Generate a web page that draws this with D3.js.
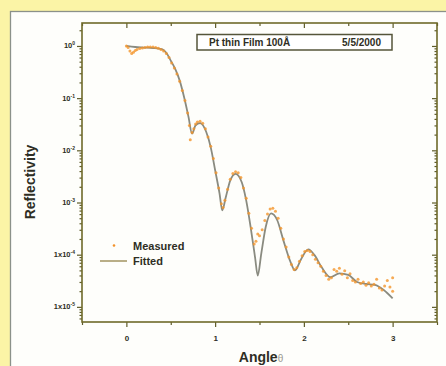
<!DOCTYPE html>
<html>
<head>
<meta charset="utf-8">
<script src="https://cdn.jsdelivr.net/npm/d3@7"></script>
<style>
body { margin: 0; background: #fbf4a6; }
svg { display: block; }
text { font-family: "Liberation Sans", Arial, sans-serif; font-weight: bold; fill: #2e2e24; }
</style>
</head>
<body>
<div id="chart"></div>
<script>
// fitted curve (angle in degrees, reflectivity)
const fitAngle = [0, 0.1, 0.2, 0.3, 0.4, 0.45, 0.5, 0.55, 0.6, 0.65, 0.7, 0.74, 0.78, 0.83, 0.9, 0.95, 1.0, 1.05, 1.08, 1.12, 1.17, 1.23, 1.3, 1.35, 1.4, 1.45, 1.48, 1.52, 1.57, 1.63, 1.7, 1.77, 1.85, 1.9, 1.97, 2.05, 2.12, 2.2, 2.3, 2.4, 2.5, 2.6, 2.7, 2.8, 2.9, 3.0];
const fitRefl = [1.0, 0.955, 0.933, 0.912, 0.871, 0.741, 0.525, 0.363, 0.219, 0.105, 0.0437, 0.0209, 0.0302, 0.0331, 0.0224, 0.0115, 0.00417, 0.00148, 7.08e-4, 1.26e-3, 2.63e-3, 3.55e-3, 2.45e-3, 1.10e-3, 3.39e-4, 8.9e-5, 3.98e-5, 1.05e-4, 3.39e-4, 6.17e-4, 4.57e-4, 1.86e-4, 7.2e-5, 5.0e-5, 8.3e-5, 1.26e-4, 9.8e-5, 5.75e-5, 3.7e-5, 4.4e-5, 4.1e-5, 3.0e-5, 2.75e-5, 2.63e-5, 2.1e-5, 1.45e-5];

// measured points
const measAngle = [0.00, 0.02, 0.04, 0.06, 0.08, 0.10, 0.12, 0.15, 0.18, 0.21, 0.24, 0.27, 0.30, 0.33, 0.36, 0.39, 0.42, 0.45, 0.48, 0.51, 0.54, 0.57, 0.60, 0.63, 0.66, 0.69, 0.71, 0.72, 0.74, 0.76, 0.78, 0.80, 0.83, 0.86, 0.89, 0.92, 0.95, 0.98, 1.01, 1.04, 1.07, 1.09, 1.11, 1.14, 1.17, 1.20, 1.23, 1.26, 1.29, 1.32, 1.35, 1.38, 1.41, 1.44, 1.46, 1.48, 1.50, 1.53, 1.56, 1.59, 1.62, 1.65, 1.68, 1.71, 1.74, 1.77, 1.80, 1.83, 1.86, 1.89, 1.92, 1.95, 1.98, 2.01, 2.04, 2.07, 2.10, 2.13, 2.16, 2.19, 2.22, 2.25, 2.28, 2.31, 2.34, 2.37, 2.40, 2.43, 2.46, 2.49, 2.52, 2.55, 2.58, 2.61, 2.64, 2.67, 2.70, 2.73, 2.76, 2.79, 2.82, 2.85, 2.88, 2.91, 2.94, 2.97, 3.00, 3.00];
const measRefl = [1.00, 0.93, 0.80, 0.72, 0.76, 0.82, 0.86, 0.89, 0.91, 0.93, 0.95, 0.96, 0.95, 0.93, 0.90, 0.86, 0.80, 0.72, 0.60, 0.47, 0.38, 0.29, 0.21, 0.14, 0.090, 0.052, 0.030, 0.016, 0.022, 0.026, 0.032, 0.035, 0.036, 0.033, 0.026, 0.018, 0.012, 0.0070, 0.0037, 0.0019, 0.00095, 0.00080, 0.0011, 0.0018, 0.0028, 0.0036, 0.0039, 0.0037, 0.0030, 0.0019, 0.0012, 0.00062, 0.00032, 0.00016, 1.8e-4, 2.5e-4, 2.3e-4, 3.0e-4, 4.5e-4, 6.0e-4, 7.5e-4, 7.8e-4, 6.8e-4, 5.0e-4, 3.2e-4, 2.0e-4, 1.4e-4, 9.0e-5, 6.5e-5, 5.2e-5, 5.6e-5, 7.5e-5, 9.5e-5, 1.15e-4, 1.2e-4, 1.15e-4, 1.0e-4, 8.2e-5, 7.0e-5, 6.0e-5, 4.8e-5, 4.0e-5, 3.4e-5, 3.6e-5, 5.2e-5, 4.8e-5, 5.5e-5, 4.2e-5, 4.9e-5, 3.6e-5, 4.3e-5, 3.2e-5, 3.0e-5, 3.4e-5, 2.8e-5, 3.0e-5, 2.6e-5, 2.9e-5, 2.5e-5, 2.7e-5, 3.4e-5, 2.3e-5, 2.1e-5, 2.5e-5, 3.2e-5, 2.4e-5, 3.6e-5, 2.0e-5];

const decadeTicks = [1, 1e-1, 1e-2, 1e-3, 1e-4, 1e-5];
const decadeBase = ["10", "10", "10", "10", "1x10", "1x10"];
const decadeExp = ["0", "-1", "-2", "-3", "-4", "-5"];
const angleTicks = [0, 1, 2, 3];
const angleMinor = [-0.5, 0.5, 1.5, 2.5, 3.5];
const titleText = "Pt thin Film 100Å";
const dateText = "5/5/2000";

const width = 446, height = 366;
const plotLeft = 82, plotRight = 437, plotTop = 23, plotBottom = 322;
const axisColor = "#5f5c2a";

const svg = d3.select("#chart").append("svg")
    .attr("width", width)
    .attr("height", height);

//white panel
svg.append("rect")
    .attr("x", 10.5).attr("y", 11.5)
    .attr("width", 460).attr("height", 400)
    .attr("fill", "#fefefb")
    .attr("stroke", "#8b918a")
    .attr("stroke-width", 1.3);

const x = d3.scaleLinear().domain([-0.5, 3.5]).range([plotLeft, plotRight]);
const y = d3.scaleLog().domain([Math.pow(10, -5.29), Math.pow(10, 0.44)]).range([plotBottom, plotTop]);

//minor log ticks
const minorY = [];
for (let e = -6; e <= 0; e++) {
    for (let k = 2; k <= 9; k++) {
        const v = k * Math.pow(10, e);
        if (v > y.domain()[0] && v < y.domain()[1]) minorY.push(v);
    }
}

//Left axis
const gl = svg.append("g").attr("transform", `translate(${plotLeft},0)`);
gl.call(d3.axisLeft(y).tickValues(decadeTicks).tickSize(5).tickFormat(""));
gl.append("g").call(d3.axisLeft(y).tickValues(minorY).tickSize(2.5).tickFormat(""));
gl.selectAll(".domain").remove();
gl.selectAll("line").attr("stroke", axisColor).attr("stroke-width", 1.2);

const labels = gl.selectAll(".ylab")
    .data(decadeTicks)
    .enter().append("text")
    .attr("class", "ylab")
    .attr("x", -7)
    .attr("y", d => y(d) + 2.5)
    .attr("text-anchor", "end")
    .style("font-size", "7.5px");
labels.append("tspan").text((d, i) => decadeBase[i]);
labels.append("tspan")
    .attr("dy", -3)
    .style("font-size", "5px")
    .text((d, i) => decadeExp[i]);

//Right axis (mirror)
const gr = svg.append("g").attr("transform", `translate(${plotRight},0)`);
gr.call(d3.axisLeft(y).tickValues(decadeTicks).tickSize(5).tickFormat(""));
gr.append("g").call(d3.axisLeft(y).tickValues(minorY).tickSize(2.5).tickFormat(""));
gr.selectAll(".domain").remove();
gr.selectAll("line").attr("stroke", axisColor).attr("stroke-width", 1.2);

//Bottom axis
const gb = svg.append("g").attr("transform", `translate(0,${plotBottom})`);
gb.call(d3.axisBottom(x).tickValues(angleTicks).tickSize(5).tickFormat(d3.format("d")));
gb.append("g").call(d3.axisBottom(x).tickValues(angleMinor).tickSize(3).tickFormat(""));
gb.selectAll(".domain").remove();
gb.selectAll("line").attr("stroke", axisColor).attr("stroke-width", 1.2);
gb.selectAll("text")
    .attr("y", 13)
    .style("font-size", "8px")
    .style("font-family", "'Liberation Sans', Arial, sans-serif")
    .style("font-weight", "bold")
    .attr("fill", "#3a3a2c");

//Top axis (mirror, inward)
const gt = svg.append("g").attr("transform", `translate(0,${plotTop})`);
gt.call(d3.axisBottom(x).tickValues(angleTicks).tickSize(5).tickFormat(""));
gt.append("g").call(d3.axisBottom(x).tickValues(angleMinor).tickSize(3).tickFormat(""));
gt.selectAll(".domain").remove();
gt.selectAll("line").attr("stroke", axisColor).attr("stroke-width", 1.2);

//frame
svg.append("rect")
    .attr("x", plotLeft).attr("y", plotTop)
    .attr("width", plotRight - plotLeft).attr("height", plotBottom - plotTop)
    .attr("fill", "none")
    .attr("stroke", "#6f6a2a")
    .attr("stroke-width", 1.6);

//fitted line
const fitted = fitAngle.map((a, i) => ({ a, r: fitRefl[i] }));
const line = d3.line()
    .x(d => x(d.a))
    .y(d => y(d.r))
    .curve(d3.curveMonotoneX);
svg.append("path")
    .datum(fitted)
    .attr("d", line)
    .attr("fill", "none")
    .attr("stroke", "#8a8b80")
    .attr("stroke-width", 1.8);

//measured dots
const measured = measAngle.map((a, i) => ({ a, r: measRefl[i] }));
svg.selectAll(".pt")
    .data(measured)
    .enter().append("circle")
    .attr("class", "pt")
    .attr("cx", d => x(d.a))
    .attr("cy", d => y(d.r))
    .attr("r", 1.5)
    .attr("fill", "#f4952a")
    .attr("opacity", 0.8);

//title box
svg.append("rect")
    .attr("x", 197).attr("y", 34.5)
    .attr("width", 195).attr("height", 15.5)
    .attr("fill", "#ffffff")
    .attr("stroke", "#55553a")
    .attr("stroke-width", 1.5);
svg.append("text")
    .attr("x", 209).attr("y", 45.5)
    .style("font-size", "10px")
    .text(titleText);
svg.append("text")
    .attr("x", 381).attr("y", 45.5)
    .attr("text-anchor", "end")
    .style("font-size", "10px")
    .text(dateText);

//legend
svg.append("circle")
    .attr("cx", 114).attr("cy", 245.5)
    .attr("r", 1.3)
    .attr("fill", "#f3922a");
svg.append("text")
    .attr("x", 133).attr("y", 249.5)
    .style("font-size", "11px")
    .text("Measured");
svg.append("line")
    .attr("x1", 100).attr("x2", 127)
    .attr("y1", 261).attr("y2", 261)
    .attr("stroke", "#a89a6a")
    .attr("stroke-width", 1.6);
svg.append("text")
    .attr("x", 133).attr("y", 265)
    .style("font-size", "11px")
    .text("Fitted");

//axis titles
svg.append("text")
    .attr("transform", "translate(35,182) rotate(-90)")
    .attr("text-anchor", "middle")
    .style("font-size", "14px")
    .text("Reflectivity");
const xt = svg.append("text")
    .attr("x", 261).attr("y", 362)
    .attr("text-anchor", "middle")
    .style("font-size", "14px");
xt.append("tspan").text("Angle");
xt.append("tspan").style("font-weight", "normal").style("font-size", "10px").attr("fill", "#9a9a90").text("θ");
</script>
</body>
</html>
